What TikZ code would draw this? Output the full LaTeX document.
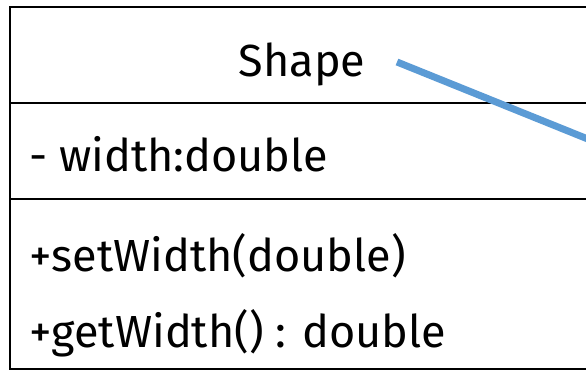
\documentclass[tikz,border=0pt]{standalone}
\usepackage{fontspec}
\setmainfont{Fira Sans}
\definecolor{linkblue}{RGB}{91,155,213}
\begin{document}
\begin{tikzpicture}[x=1pt,y=-1pt,
  boxline/.style={line width=2.2pt, draw=black},
  member/.style={anchor=base west, inner sep=0pt, font=\fontsize{45}{52}\selectfont},
  link/.style={line width=7pt, draw=linkblue}]
\useasboundingbox (0,0) rectangle (586,371);
\clip (0,0) rectangle (586,371);
\fill[white] (0,0) rectangle (586,371);
\draw[boxline] (10,7) rectangle (620,369);
\draw[boxline] (10,103) -- (620,103);
\draw[boxline] (10,199) -- (620,199);
\node[member, anchor=base] (name) at (302,77) {Shape};
\node[member] (attr) at (29,172) {- width:double};
\node[member] (op1) at (29,272) {+setWidth(double)};
\node[member] (op2) at (29,347) {+getWidth() : double};
\coordinate (ls) at (397,62);
\coordinate (le) at (620,152);
\draw[link] (ls) -- (le);
\end{tikzpicture}
\end{document}
